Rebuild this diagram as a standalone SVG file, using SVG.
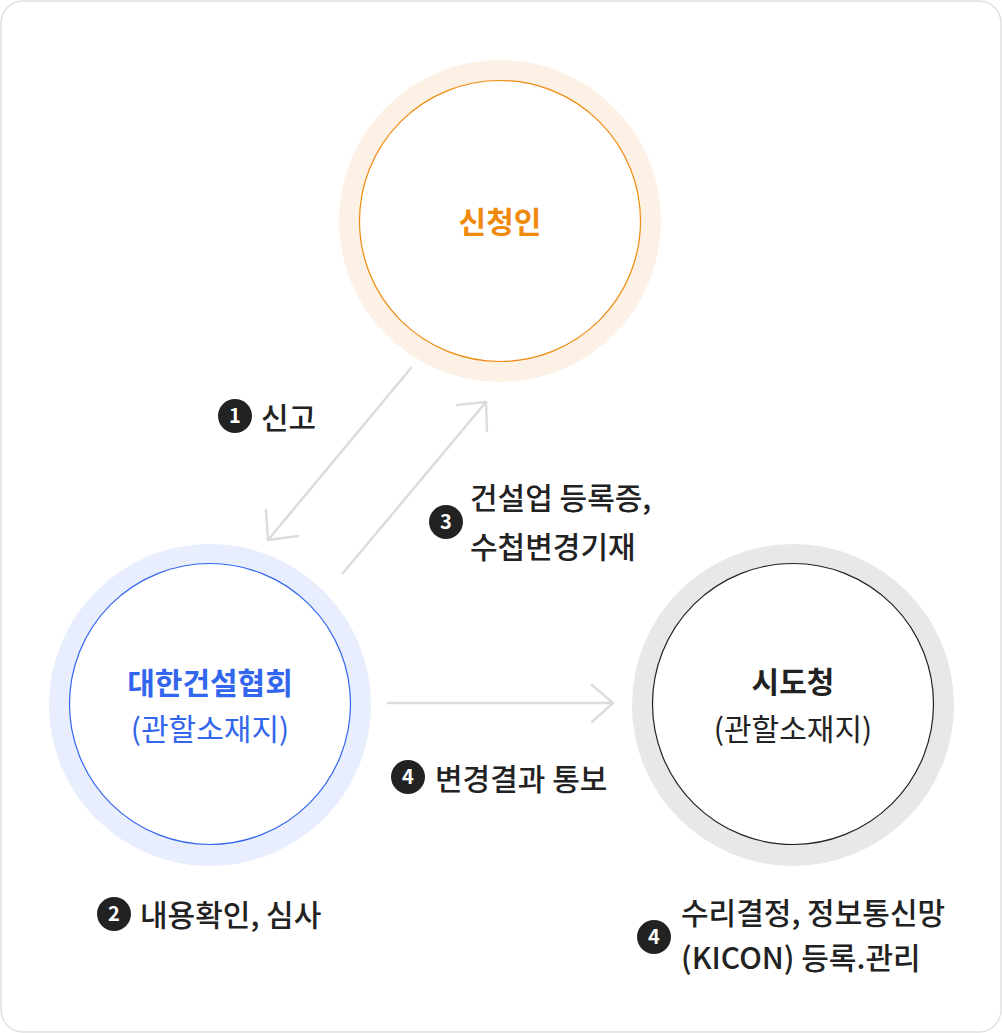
<svg xmlns="http://www.w3.org/2000/svg" width="1002" height="1033" viewBox="0 0 1002 1033">
<defs>
<style>
.t{font-family:"Noto Sans CJK KR","Noto Sans",sans-serif;font-weight:500;font-size:30px;fill:#222}
.b{font-family:"Noto Sans CJK KR","Noto Sans",sans-serif;font-weight:700;font-size:20px;fill:#fff;text-anchor:middle}
.h{font-family:"Noto Sans CJK KR","Noto Sans",sans-serif;font-weight:700;font-size:30px;text-anchor:middle}
.s{font-family:"Noto Sans CJK KR","Noto Sans",sans-serif;font-weight:400;font-size:30px;text-anchor:middle}
.c{fill:none;stroke:#dcdcdc;stroke-width:2.5;stroke-linecap:round;stroke-linejoin:round}
</style>
</defs>
<rect x="1" y="1" width="1000" height="1031" rx="22" fill="#fff" stroke="#e0e0e0" stroke-width="1.5"/>
<g id="applicant">
<circle cx="500" cy="221" r="161" fill="#fdf1e5"/>
<circle cx="500" cy="221" r="140.5" fill="#fff" stroke="#f08a0c" stroke-width="1.2"/>
<text class="h" x="500" y="233" fill="#f08a0c">신청인</text>
</g>
<g id="association">
<circle cx="210" cy="705" r="161" fill="#e8eefd"/>
<circle cx="210" cy="704" r="140.5" fill="#fff" stroke="#3366ee" stroke-width="1.2"/>
<text class="h" x="210" y="694" fill="#3366ee">대한건설협회</text>
<text class="s" x="210" y="740" fill="#3366ee">(관할소재지)</text>
</g>
<g id="city">
<circle cx="793" cy="705" r="161" fill="#e8e8e8"/>
<circle cx="793" cy="704" r="140.5" fill="#fff" stroke="#222" stroke-width="1.2"/>
<text class="h" x="793" y="693" fill="#222">시도청</text>
<text class="s" x="793" y="740" fill="#222">(관할소재지)</text>
</g>
<g id="connectors">
<path class="c" d="M411 368 L268 540 M266 510 L268 540 L298 536"/>
<path class="c" d="M343 573 L486 402 M457 405 L486 402 L487 431"/>
<path class="c" d="M388 703 L613 703 M592 685 L613 703 L592 722"/>
</g>
<g id="label1">
<circle cx="235" cy="416" r="17" fill="#222"/>
<text class="b" x="235" y="423">1</text>
<text class="t" x="261" y="429">신고</text>
</g>
<g id="label3">
<circle cx="446" cy="522" r="17" fill="#222"/>
<text class="b" x="446" y="529">3</text>
<text class="t" x="470" y="509">건설업 등록증,</text>
<text class="t" x="470" y="558">수첩변경기재</text>
</g>
<g id="label4a">
<circle cx="408" cy="777" r="17" fill="#222"/>
<text class="b" x="408" y="784">4</text>
<text class="t" x="435" y="790">변경결과 통보</text>
</g>
<g id="label2">
<circle cx="114" cy="914" r="17" fill="#222"/>
<text class="b" x="114" y="921">2</text>
<text class="t" x="140" y="926">내용확인, 심사</text>
</g>
<g id="label4b">
<circle cx="654" cy="937" r="17" fill="#222"/>
<text class="b" x="654" y="944">4</text>
<text class="t" x="681" y="924">수리결정, 정보통신망</text>
<text class="t" x="681" y="969">(KICON) 등록.관리</text>
</g>
</svg>
